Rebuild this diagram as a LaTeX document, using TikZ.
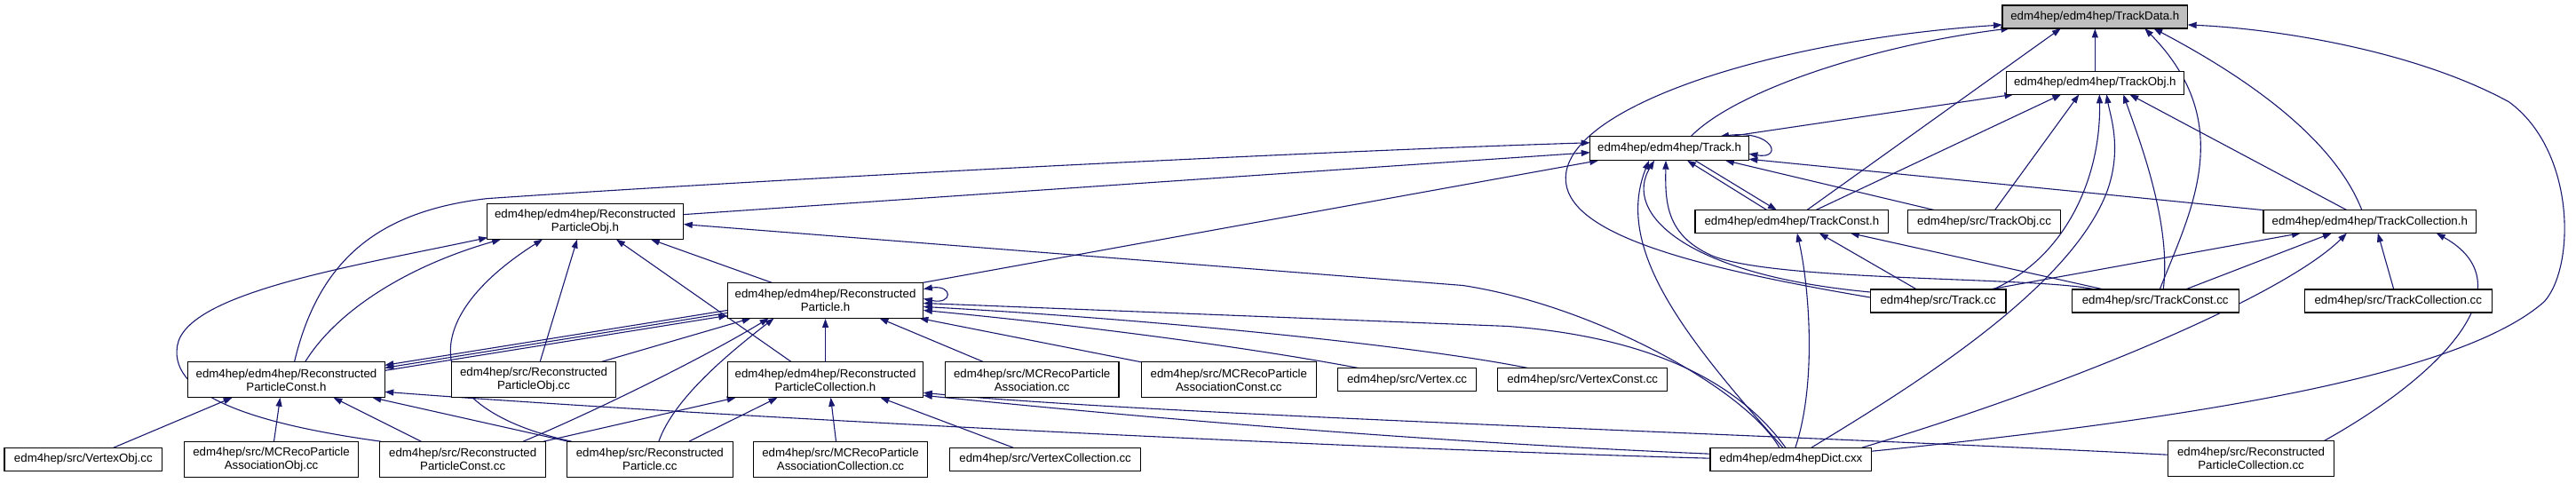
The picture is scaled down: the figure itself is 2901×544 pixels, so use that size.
\documentclass[tikz,border=0pt]{standalone}
\usepackage{fontspec}
\setmainfont{Liberation Sans}
\usetikzlibrary{arrows.meta,calc}
\definecolor{edgeblue}{HTML}{191970}
\definecolor{rootgray}{HTML}{BFBFBF}
\pgfdeclarelayer{back}
\pgfdeclarelayer{bg}
\pgfsetlayers{back,bg,main}
\begin{document}
\begin{tikzpicture}[x=1pt,y=-1pt,
  box/.style={draw=black,line width=1.1pt,fill=white,inner sep=0pt,align=center,font=\fontsize{13.3}{15}\selectfont},
  e/.style={draw=edgeblue,line width=1.1pt,-{Triangle[length=10pt,width=7pt]}},
  ee/.style={draw=edgeblue,line width=1.1pt,{Triangle[length=10pt,width=7pt]}-{Triangle[length=10pt,width=7pt]}}]
\begin{pgfonlayer}{back}
\path[use as bounding box,fill=white] (0,0) rectangle (2901,544);
\end{pgfonlayer}
% nodes
\node[box,minimum width=209pt,minimum height=26pt,fill=rootgray] (td) at (2363,19) {edm4hep/edm4hep/TrackData.h};
\node[box,minimum width=200pt,minimum height=26pt] (tobjh) at (2363,93.5) {edm4hep/edm4hep/TrackObj.h};
\node[box,minimum width=179pt,minimum height=27pt] (trh) at (1883,167.5) {edm4hep/edm4hep/Track.h};
\node[box,minimum width=218pt,minimum height=26pt] (tch) at (2021,250) {edm4hep/edm4hep/TrackConst.h};
\node[box,minimum width=172pt,minimum height=26pt] (tobjcc) at (2238,250) {edm4hep/src/TrackObj.cc};
\node[box,minimum width=240pt,minimum height=26pt] (tcolh) at (2673,250) {edm4hep/edm4hep/TrackCollection.h};
\node[box,minimum width=153pt,minimum height=26pt] (trcc) at (2186,339.5) {edm4hep/src/Track.cc};
\node[box,minimum width=188pt,minimum height=26pt] (tccc) at (2431,339.5) {edm4hep/src/TrackConst.cc};
\node[box,minimum width=211pt,minimum height=26pt] (tcolcc) at (2705,339.5) {edm4hep/src/TrackCollection.cc};
\node[box,minimum width=182pt,minimum height=26pt] (dict) at (2020,518) {edm4hep/edm4hepDict.cxx};
\node[box,minimum width=188pt,minimum height=40pt] (rpcolcc) at (2539,517.5) {edm4hep/src/Reconstructed\\ParticleCollection.cc};
\node[box,minimum width=222pt,minimum height=40pt] (rpobjh) at (660,250) {edm4hep/edm4hep/Reconstructed\\ParticleObj.h};
\node[box,minimum width=221pt,minimum height=40pt] (rph) at (931,339) {edm4hep/edm4hep/Reconstructed\\Particle.h};
\node[box,minimum width=222pt,minimum height=40pt] (rpch) at (323,428.5) {edm4hep/edm4hep/Reconstructed\\ParticleConst.h};
\node[box,minimum width=186pt,minimum height=40pt] (rpobjcc) at (602,428.5) {edm4hep/src/Reconstructed\\ParticleObj.cc};
\node[box,minimum width=221pt,minimum height=40pt] (rpcolh) at (931,428.5) {edm4hep/edm4hep/Reconstructed\\ParticleCollection.h};
\node[box,minimum width=196pt,minimum height=40pt] (mcra) at (1164,428.5) {edm4hep/src/MCRecoParticle\\Association.cc};
\node[box,minimum width=197pt,minimum height=40pt] (mcrac) at (1386,428.5) {edm4hep/src/MCRecoParticle\\AssociationConst.cc};
\node[box,minimum width=157pt,minimum height=26pt] (vtx) at (1587,428.5) {edm4hep/src/Vertex.cc};
\node[box,minimum width=191pt,minimum height=26pt] (vtxc) at (1785,428.5) {edm4hep/src/VertexConst.cc};
\node[box,minimum width=178pt,minimum height=26pt] (vtxo) at (94,518) {edm4hep/src/VertexObj.cc};
\node[box,minimum width=197pt,minimum height=40pt] (mcrao) at (306,518) {edm4hep/src/MCRecoParticle\\AssociationObj.cc};
\node[box,minimum width=187pt,minimum height=40pt] (rpccc) at (522,518) {edm4hep/src/Reconstructed\\ParticleConst.cc};
\node[box,minimum width=187pt,minimum height=40pt] (rpcc) at (733,518) {edm4hep/src/Reconstructed\\Particle.cc};
\node[box,minimum width=197pt,minimum height=40pt] (mcracol) at (948,518) {edm4hep/src/MCRecoParticle\\AssociationCollection.cc};
\node[box,minimum width=215pt,minimum height=26pt] (vtxcol) at (1179,518) {edm4hep/src/VertexCollection.cc};
\begin{pgfonlayer}{bg}
% into TrackData.h
\path[e] ($(trcc)+(-76.5,-4)$) .. controls (1900,300) and (1764,262) .. (1766,200) .. controls (1768,120) and (2000,45) .. ($(td)+(-104.5,9)$);
\path[e] ($(trh)+(24,-13.5)$) .. controls (1960,100) and (2120,50) .. ($(td)+(-96,13)$);
\path[e] ($(tch)+(17,-13)$) -- ($(td)+(-38.5,13)$);
\path[e] (tobjh.north) -- (td.south);
\path[e] ($(tccc)+(5,-13)$) .. controls (2470,240) and (2525,140) .. ($(td)+(56,13)$);
\path[e] ($(tcolh)+(-9,-13)$) .. controls (2630,150) and (2520,80) .. ($(td)+(66,13)$);
\path[e] ($(dict)+(91,-9)$) .. controls (2500,470) and (2780,420) .. (2870,340) .. controls (2905,300) and (2905,170) .. (2830,115) .. controls (2720,55) and (2560,32) .. ($(td)+(104.5,9)$);
% into TrackObj.h
\path[e] ($(trh)+(67,-13.5)$) -- ($(tobjh)+(-92,13)$);
\path[e] ($(tch)+(27,-13)$) -- ($(tobjh)+(-38,13)$);
\path[e] ($(tobjcc)+(12,-13)$) -- ($(tobjh)+(-18,13)$);
\path[e] ($(trcc)+(62,-13)$) .. controls (2330,290) and (2370,200) .. ($(tobjh)+(5,13)$);
\path[e] ($(dict)+(23,-13)$) .. controls (2150,440) and (2330,330) .. (2375,220) .. controls (2395,170) and (2380,130) .. ($(tobjh)+(13,13)$);
\path[e] ($(tccc)+(9,-13)$) .. controls (2450,250) and (2410,150) .. ($(tobjh)+(32,13)$);
\path[e] ($(tcolh)+(-26,-13)$) -- ($(tobjh)+(39,13)$);
% Track.h
\path[ee] ($(trh)+(57,-13.5)$) .. controls (2000,146) and (2012,180) .. ($(trh)+(89.5,6)$);
\path[e] ($(trh)+(29,13.5)$) -- ($(tch)+(-17,-13)$);
\path[e] ($(tch)+(-28,-13)$) -- ($(trh)+(20,13.5)$);
\path[e] ($(rpch)+(9,-20)$) .. controls (360,290) and (430,238) .. (549,224) .. controls (900,200) and (1500,170) .. ($(trh)+(-89.5,-6.5)$);
\path[e] ($(rpobjh)+(111,-8)$) -- ($(trh)+(-89.5,4.5)$);
\path[e] ($(rph)+(109,-20)$) -- ($(trh)+(-80,13.5)$);
\path[e] ($(trcc)+(-76.5,-10)$) .. controls (1900,310) and (1830,240) .. ($(trh)+(-17,13.5)$);
\path[e] ($(dict)+(-9,-13)$) .. controls (1900,380) and (1820,280) .. ($(trh)+(-23,13.5)$);
\path[e] ($(tccc)+(-68,-13)$) .. controls (2300,312) and (2000,318) .. (1930,288) .. controls (1880,265) and (1878,230) .. ($(trh)+(-4,13.5)$);
\path[e] ($(tobjcc)+(-56,-13)$) -- ($(trh)+(63,13.5)$);
\path[e] ($(tcolh)+(-120,-13)$) -- ($(trh)+(89.5,12)$);
% into TrackConst.h
\path[e] ($(trcc)+(-24,-13)$) -- ($(tch)+(31,13)$);
\path[e] ($(tccc)+(-58,-13)$) -- ($(tch)+(66,13)$);
\path[e] ($(dict)+(5,-13)$) .. controls (2050,430) and (2040,320) .. ($(tch)+(6,13)$);
% into TrackCollection.h
\path[e] ($(trcc)+(58,-13)$) -- ($(tcolh)+(-78,13)$);
\path[e] ($(tccc)+(34,-13)$) -- ($(tcolh)+(-43,13)$);
\path[e] ($(dict)+(80,-13)$) .. controls (2350,430) and (2580,330) .. ($(tcolh)+(-26,13)$);
\path[e] ($(tcolcc)+(-5,-13)$) -- ($(tcolh)+(9,13)$);
\path[e] ($(rpcolcc)+(82,-20)$) .. controls (2760,420) and (2850,320) .. ($(tcolh)+(75,13)$);
% Dict to ReconstructedParticle headers
\path[e] ($(dict)+(-13,-13)$) .. controls (1970,440) and (1800,345) .. (1650,322) -- ($(rpobjh)+(111,3)$);
\path[e] ($(dict)+(-6,-13)$) .. controls (1960,430) and (1860,380) .. (1700,368) -- ($(rph)+(110.5,3)$);
\path[e] ($(dict)+(-91,-1)$) .. controls (1500,505) and (800,470) .. ($(rpch)+(111,13.5)$);
\path[e] ($(dict)+(-91,-6)$) .. controls (1600,498) and (1300,472) .. ($(rpcolh)+(110.5,17.5)$);
\path[e] ($(rpcolcc)+(-94,-4.5)$) .. controls (2000,490) and (1300,468) .. ($(rpcolh)+(110.5,14.5)$);
% into ReconstructedParticleObj.h
\path[e] ($(rpccc)+(-92,-20)$) .. controls (300,480) and (190,450) .. (200,390) .. controls (210,330) and (400,300) .. ($(rpobjh)+(-110,18)$);
\path[e] ($(rpch)+(21,-20)$) .. controls (380,350) and (460,300) .. ($(rpobjh)+(-95,20)$);
\path[e] ($(rpcc)+(-88,-20)$) .. controls (470,460) and (470,360) .. ($(rpobjh)+(-48,20)$);
\path[e] ($(rpobjcc)+(7,-20)$) -- ($(rpobjh)+(-9,20)$);
\path[e] ($(rpcolh)+(-38,-20)$) -- ($(rpobjh)+(35,20)$);
\path[e] ($(rph)+(-60,-20)$) -- ($(rpobjh)+(74,20)$);
% ReconstructedParticle.h
\path[e] ($(rph)+(-110.5,11)$) -- ($(rpch)+(111,-16.5)$);
\path[e] ($(rph)+(-110.5,14)$) -- ($(rpch)+(111,-13.5)$);
\path[e] ($(rpch)+(111,-10.5)$) -- ($(rph)+(-110.5,17)$);
\path[ee] ($(rph)+(110.5,-13)$) .. controls (1075,321) and (1075,344) .. ($(rph)+(110.5,-2)$);
\path[e] ($(rpobjcc)+(75,-20)$) -- ($(rph)+(-84,20)$);
\path[e] ($(rpccc)+(68,-20)$) .. controls (680,460) and (800,400) .. ($(rph)+(-64,20)$);
\path[e] ($(rpcc)+(10,-20)$) .. controls (760,450) and (820,400) .. ($(rph)+(-58,20)$);
\path[e] (rpcolh.north) -- (rph.south);
\path[e] ($(mcra)+(-54,-20)$) -- ($(rph)+(61,20)$);
\path[e] ($(mcrac)+(-98.5,-20)$) -- ($(rph)+(106,20)$);
\path[e] ($(vtx)+(-53,-13)$) .. controls (1400,390) and (1200,365) .. ($(rph)+(110.5,11)$);
\path[e] ($(vtxc)+(-60,-13)$) .. controls (1600,390) and (1300,360) .. ($(rph)+(110.5,7)$);
% into ReconstructedParticleConst.h
\path[e] ($(vtxo)+(34,-13)$) -- ($(rpch)+(-61,20)$);
\path[e] ($(mcrao)+(3,-20)$) -- ($(rpch)+(-7,20)$);
\path[e] ($(rpccc)+(-47,-20)$) -- ($(rpch)+(53,20)$);
\path[e] ($(rpcc)+(-92,-20)$) -- ($(rpch)+(97,20)$);
% into ReconstructedParticleCollection.h
\path[e] ($(rpccc)+(91,-20)$) -- ($(rpcolh)+(-101,20)$);
\path[e] ($(rpcc)+(44,-20)$) -- ($(rpcolh)+(-54,20)$);
\path[e] ($(mcracol)+(-5,-20)$) -- ($(rpcolh)+(6,20)$);
\path[e] ($(vtxcol)+(-36,-13)$) -- ($(rpcolh)+(62,20)$);
\end{pgfonlayer}
\end{tikzpicture}
\end{document}
